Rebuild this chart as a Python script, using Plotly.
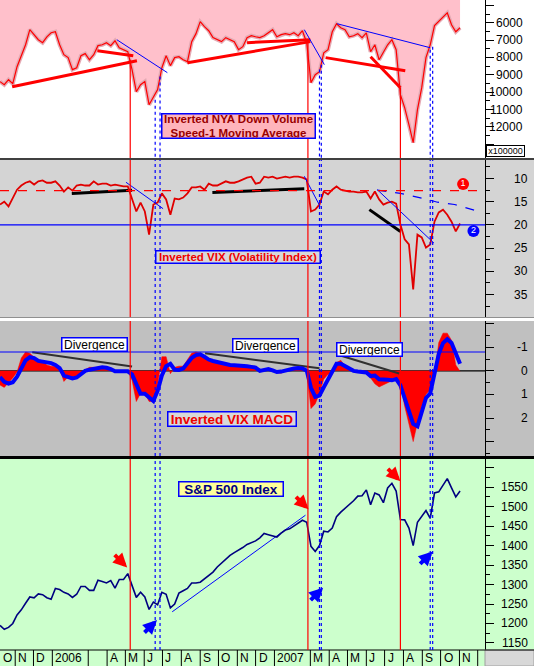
import pandas as pd
import plotly.graph_objects as go

# weekly closes, Oct 2005 - Nov 2007
weeks = pd.date_range("2005-10-07", periods=109, freq="7D")

nya_down = [9390, 9570, 9280, 9510, 8530, 7840, 7270, 6400, 6690, 6980,
            7150, 6810, 6580, 6520, 7270, 7840, 8010, 8700, 8590, 7900,
            7780, 8130, 7840, 7320, 7270, 7150, 7320, 7040, 7440, 7550,
            7670, 8700, 9970, 9570, 9390, 10720, 10260, 9850, 8590, 7900,
            8470, 8010, 7960, 8130, 8240, 7090, 6630, 5940, 6230, 6460,
            6860, 6980, 7090, 6860, 6980, 7090, 7550, 7380, 6860, 6750,
            6810, 6860, 6750, 6580, 6400, 6810, 6690, 6630, 6690, 6580,
            6750, 6460, 7150, 9450, 8990, 8820, 7730, 7550, 6520, 6060,
            6290, 6400, 6810, 6750, 6630, 6860, 6580, 7670, 7270, 8130,
            7670, 7270, 6980, 7550, 10140, 10890, 11870, 12900, 11000, 9740,
            8010, 7270, 6170, 5940, 5710, 5430, 6120, 6520, 6290]

vix = [15.6, 15.0, 16.0, 14.1, 12.4, 11.5, 10.9, 10.6, 11.3, 10.6,
       10.4, 10.9, 10.9, 10.6, 11.5, 12.8, 11.9, 12.6, 11.5, 11.3,
       11.5, 11.5, 10.6, 11.3, 11.1, 11.1, 11.5, 11.3, 11.5, 11.7,
       11.7, 14.5, 17.1, 15.2, 17.1, 22.1, 15.6, 15.2, 13.2, 14.5,
       17.8, 14.3, 14.5, 14.1, 13.2, 11.9, 11.9, 11.7, 12.4, 11.1,
       11.5, 11.5, 11.1, 10.6, 10.9, 10.9, 10.6, 10.2, 9.8, 9.6,
       11.1, 10.9, 9.6, 9.8, 9.6, 10.0, 9.8, 9.6, 9.8, 9.6,
       9.6, 9.8, 10.2, 17.1, 16.7, 15.6, 12.8, 13.4, 12.4, 11.7,
       12.4, 12.6, 12.8, 12.8, 13.0, 13.0, 12.8, 14.3, 12.8, 14.5,
       15.6, 15.2, 15.0, 15.4, 19.9, 23.1, 24.2, 33.9, 22.1, 22.7,
       24.9, 24.2, 19.3, 17.3, 16.7, 17.8, 19.3, 21.4, 19.7]

macd = [0.26, 0.46, 0.54, 0.48, 0.25, -0.10, -0.45, -0.58, -0.54, -0.42,
        -0.38, -0.38, -0.33, -0.25, -0.12, 0.20, 0.28, 0.32, 0.28, 0.16,
        0.00, -0.05, -0.09, -0.12, -0.15, -0.13, -0.08, 0.02, 0.02, 0.02,
        0.02, 0.15, 0.60, 0.97, 0.97, 1.15, 1.28, 0.85, 0.19, -0.20,
        -0.30, -0.05, -0.04, -0.10, -0.30, -0.55, -0.67, -0.70, -0.60, -0.48,
        -0.42, -0.37, -0.33, -0.29, -0.25, -0.24, -0.24, -0.24, -0.20, -0.17,
        -0.14, 0.00, -0.06, -0.08, -0.02, 0.05, 0.03, -0.02, -0.08, -0.10,
        -0.12, -0.10, -0.01, 0.72, 1.10, 1.05, 0.70, 0.35, 0.05, -0.30,
        -0.30, -0.20, -0.10, 0.00, 0.03, 0.04, 0.07, 0.22, 0.20, 0.36,
        0.35, 0.38, 0.40, 0.35, 0.62, 1.20, 1.70, 2.25, 2.35, 1.72,
        1.15, 0.95, 0.20, -0.71, -1.18, -1.34, -1.18, -0.68, -0.30]

macd_hist = [0.60, 0.70, 0.50, 0.30, 0.05, -0.55, -0.80, -0.75, -0.58, -0.50,
             -0.40, -0.25, -0.20, -0.20, -0.10, 0.45, 0.25, 0.26, 0.20, 0.15,
             -0.05, -0.15, -0.15, -0.12, -0.12, -0.10, 0.00, 0.00, 0.00, 0.00,
             0.00, 0.40, 1.30, 0.95, 0.95, 1.30, 1.30, 0.60, -0.60, -0.60,
             0.12, -0.15, -0.20, -0.20, -0.50, -0.75, -0.80, -0.75, -0.55, -0.45,
             -0.38, -0.35, -0.30, -0.30, -0.25, -0.25, -0.25, -0.22, -0.20, -0.18,
             -0.12, -0.05, 0.00, -0.05, -0.02, 0.08, 0.10, -0.02, -0.05, -0.10,
             -0.10, -0.05, 0.05, 1.60, 1.40, 0.95, 0.35, 0.15, 0.10, -0.35,
             -0.45, -0.20, 0.00, 0.00, 0.00, 0.00, 0.02, 0.30, 0.55, 0.68,
             0.60, 0.50, 0.42, 0.30, 0.55, 1.50, 2.30, 3.00, 2.20, 1.50,
             1.00, 0.80, 0.20, -1.20, -1.60, -1.60, -1.30, -0.25, 0.02]

spx = [1195, 1185, 1190, 1200, 1222, 1235, 1252, 1268, 1266, 1276,
       1274, 1266, 1262, 1290, 1287, 1280, 1276, 1267, 1275, 1295,
       1295, 1285, 1285, 1311, 1308, 1304, 1310, 1291, 1313, 1313,
       1328, 1298, 1267, 1280, 1268, 1236, 1255, 1248, 1280, 1275,
       1240, 1250, 1278, 1284, 1290, 1304, 1304, 1306, 1315, 1325,
       1332, 1345, 1355, 1367, 1375, 1382, 1388, 1395, 1403, 1407,
       1412, 1420, 1431, 1428, 1425, 1422, 1432, 1440, 1443, 1450,
       1458, 1465, 1460, 1398, 1385, 1400, 1437, 1435, 1445, 1474,
       1486, 1495, 1505, 1515, 1527, 1528, 1543, 1505, 1535, 1530,
       1510, 1548, 1560, 1540, 1467, 1466, 1445, 1400, 1460, 1475,
       1490, 1470, 1535, 1538, 1556, 1572, 1548, 1525, 1540]

# signal dates
sell_dates = ["2006-05-09", "2007-02-25", "2007-07-27"]
buy_dates = ["2006-06-19", "2006-06-27", "2007-03-16", "2007-03-19", "2007-09-14", "2007-09-18"]
sell_nya_start = [8130, 7150, 9740]
buy_nya_start = [10430, 9100, 8700, 8420, 7550, 7380]

# hand drawn trendlines (date0, value0, date1, value1)
nya_red_lines = [("2005-10-27", 9680, "2006-05-20", 8185),
                 ("2006-03-16", 7610, "2006-05-14", 7900),
                 ("2006-08-11", 8300, "2007-03-01", 7090),
                 ("2006-11-17", 7150, "2007-03-01", 6980),
                 ("2007-03-26", 8010, "2007-08-04", 8760),
                 ("2007-06-08", 7955, "2007-07-27", 9740)]
nya_blue_lines = [("2006-04-17", 6980, "2006-07-09", 8875),
                  ("2007-02-19", 6400, "2007-03-24", 8415),
                  ("2007-04-14", 6060, "2007-09-14", 7440)]
vix_black_lines = [("2006-02-02", 13.2, "2006-05-12", 12.5),
                   ("2006-09-21", 13.0, "2007-02-19", 12.2),
                   ("2007-06-06", 16.7, "2007-07-27", 21.4)]
vix_blue_lines = [("2006-05-02", 10.8, "2006-07-02", 16.5),
                  ("2007-02-19", 9.5, "2007-03-17", 16.0),
                  ("2007-06-19", 12.4, "2007-09-20", 23.9)]
vix_dash_dates = ["2007-06-19", "2007-07-27", "2007-09-09", "2007-09-26", "2007-10-24", "2007-12-06"]
vix_dash_values = [12.5, 13.2, 14.5, 15.1, 15.6, 17.2]
vix_red_level = 12.6
vix_blue_level = 20
vix_marker_dates = ["2007-11-07", "2007-11-24"]
vix_marker_values = [11.2, 21.3]
vix_marker_text = ["1", "2"]
macd_div_lines = [("2005-11-29", -0.79, "2006-05-12", -0.19),
                  ("2006-09-09", -0.75, "2007-03-16", -0.11),
                  ("2007-04-18", -0.66, "2007-07-25", 0.11)]
macd_blue_level = -0.8
spx_line = [("2006-07-17", 1230, "2007-02-21", 1478)]
sell_arrow_dates = ["2006-05-04", "2007-02-26", "2007-07-27"]
sell_arrow_values = [1344, 1493, 1565]
buy_arrow_dates = ["2006-06-22", "2007-03-22", "2007-09-18"]
buy_arrow_values = [1209, 1292, 1385]

# axis ticks
nya_ticks = list(range(5000, 14000, 1000))
nya_labels = [6000, 7000, 8000, 9000, 10000, 11000, 12000]
vix_ticks = [10, 15, 20, 25, 30, 35]
macd_ticks = [-2, -1, 0, 1, 2, 3]
macd_labels = [-1, 0, 1, 2]
spx_ticks = list(range(1150, 1650, 50))
spx_labels = list(range(1150, 1600, 50))
month_starts = ["2005-11-01", "2005-12-01", "2006-01-01", "2006-03-01", "2006-04-01",
                "2006-05-01", "2006-06-01", "2006-07-01", "2006-08-01", "2006-09-01", "2006-10-01",
                "2006-11-01", "2006-12-01", "2007-01-01", "2007-03-01", "2007-04-01", "2007-05-01",
                "2007-06-01", "2007-07-01", "2007-08-01", "2007-09-01", "2007-10-01", "2007-11-01",
                "2007-12-01"]
month_labels = ["N", "D", "2006", "", "A", "M", "J", "J", "A", "S", "O",
                "N", "D", "2007", "M", "A", "M", "J", "J", "A", "S", "O", "N", ""]
first_month_label = "O"   # October 2005, at the left edge

FONT = "Liberation Sans, Arial, sans-serif"
W, H = 534, 666
PW, PH = 485, 650          # plot area in px (right axis strip + bottom date strip outside)
X_RANGE = ["2005-10-07", "2007-12-13"]
NYA_RANGE = [13785, 4694]
VIX_RANGE = [39.85, 6.0]
MACD_RANGE = [3.61, -2.115]
SPX_RANGE = [1131.9, 1622.3]


def px(x):
    return x / PW


def py(y):
    return 1 - y / PH


fig = go.Figure()


def line_trace(xs, ys, sub, color, width, dash="solid"):
    fig.add_trace(go.Scatter(x=xs, y=ys, mode="lines", xaxis="x" + sub, yaxis="y" + sub,
                             line=dict(color=color, width=width, dash=dash), hoverinfo="skip"))


def segments(segs, sub, color, width, dash="solid"):
    xs, ys = [], []
    for d0, v0, d1, v1 in segs:
        xs += [d0, d1, None]
        ys += [v0, v1, None]
    line_trace(xs, ys, sub, color, width, dash)


# ---- panel backgrounds ----
shapes = []
for top, bot, color in [(0, 158, "white"), (160, 317, "#d4d4d4"), (321, 456, "#c0c0c0"),
                        (459, 650, "#ccffcc"), (650, 666, "#ccffcc")]:
    shapes.append(dict(type="rect", xref="paper", yref="paper", x0=0, x1=px(W), y0=py(bot), y1=py(top),
                       fillcolor=color, line_width=0, layer="below"))
shapes.append(dict(type="rect", xref="paper", yref="paper", x0=1, x1=px(W), y0=py(666), y1=py(650),
                   fillcolor="#d8d8d8", line=dict(color="#a0a0a0", width=1), layer="above"))
for y, color, w in [(159, "#404040", 2), (317.5, "#909090", 1), (319.5, "white", 3), (457.5, "black", 3),
                    (650, "black", 1)]:
    shapes.append(dict(type="line", xref="paper", yref="paper", x0=0, x1=px(W), y0=py(y), y1=py(y),
                       line=dict(color=color, width=w), layer="above"))

# ---- panel 1: inverted NYA down volume ----
line_trace(weeks, nya_down, "", "rgba(0,0,0,0)", 0)
fig.data[-1].update(fill="tozeroy", fillcolor="#ffc0cb")
line_trace(weeks, nya_down, "", "#e4aab4", 4)
line_trace(weeks, nya_down, "", "#ff0000", 1.2)
segments(nya_red_lines, "", "#ff0000", 3)
segments(nya_blue_lines, "", "#0000ff", 1)

# ---- panel 2: inverted VIX ----
segments(vix_black_lines, "2", "black", 3)
line_trace(weeks, vix, "2", "#e00000", 1.8)
segments(vix_blue_lines, "2", "#0000ff", 1)
line_trace(vix_dash_dates, vix_dash_values, "2", "#0000ff", 1.2, "dash")
fig.add_trace(go.Scatter(x=vix_marker_dates, y=vix_marker_values, mode="markers+text", xaxis="x2", yaxis="y2",
                         text=vix_marker_text, textposition="middle center",
                         textfont=dict(family=FONT, size=9, color="white"),
                         marker=dict(size=12, color=["#ff0000", "#0000ff"]), hoverinfo="skip"))

# ---- panel 3: VIX MACD ----
line_trace(weeks, macd_hist, "3", "#ff0000", 0.5)
fig.data[-1].update(fill="tozeroy", fillcolor="#ff0000")
segments(macd_div_lines, "3", "#303030", 2)
line_trace(weeks, macd, "3", "#0000ff", 4)

# ---- panel 4: S&P 500 ----
segments(spx_line, "4", "#0000ff", 1)
line_trace(weeks, spx, "4", "#000080", 1.6)

# reference levels
for sub, level, color, dash in [("2", vix_red_level, "#ff0000", "dash"), ("2", vix_blue_level, "#0000ff", "solid"),
                                ("3", macd_blue_level, "#0000ff", "solid"), ("3", 0, "black", "solid")]:
    shapes.append(dict(type="line", xref="x" + sub + " domain", yref="y" + sub, x0=0, x1=1, y0=level, y1=level,
                       line=dict(color=color, width=1.2, dash=dash), layer="below" if level == 0 else "above"))

# signal verticals
for d, v in zip(sell_dates, sell_nya_start):
    shapes.append(dict(type="line", xref="x", yref="y", x0=d, x1=d, y0=v, y1=NYA_RANGE[0],
                       line=dict(color="#ff0000", width=1.2)))
for d, v in zip(buy_dates, buy_nya_start):
    shapes.append(dict(type="line", xref="x", yref="y", x0=d, x1=d, y0=v, y1=NYA_RANGE[0],
                       line=dict(color="#0000ff", width=1.2, dash="3px,3px")))
for sub in ["2", "3", "4"]:
    for d in sell_dates:
        shapes.append(dict(type="line", xref="x", yref="y" + sub + " domain", x0=d, x1=d, y0=0, y1=1,
                           line=dict(color="#ff0000", width=1.2)))
    for d in buy_dates:
        shapes.append(dict(type="line", xref="x", yref="y" + sub + " domain", x0=d, x1=d, y0=0, y1=1,
                           line=dict(color="#0000ff", width=1.2, dash="3px,3px")))

# date strip separators
for d in month_starts:
    shapes.append(dict(type="line", xref="x4", yref="paper", x0=d, x1=d, y0=py(666), y1=py(650),
                       line=dict(color="black", width=1)))

annotations = []


def label_box(text, x, y, w, h, size, color, bg, bold=True, border="#0000ff", bw=1.5):
    annotations.append(dict(text="<b>" + text + "</b>" if bold else text, xref="paper", yref="paper",
                            x=px(x), y=py(y), showarrow=False, xanchor="center", yanchor="middle",
                            width=w, height=h, bgcolor=bg, bordercolor=border, borderwidth=bw, borderpad=0,
                            font=dict(family=FONT, size=size, color=color)))


label_box("Inverted NYA Down Volume<br>Speed-1 Moving Average", 238.5, 126, 152, 23, 11.5, "#990000", "#ffb4bc")
label_box("Inverted VIX (Volatility Index)", 238, 257.5, 163, 11, 11.5, "#ee0000", "#d8d8d8")
label_box("Inverted VIX MACD", 232, 419.5, 127, 13, 13.5, "#ee0000", "#d8d8d8")
label_box("S&P 500 Index", 231, 489, 103, 13, 13.5, "#000080", "#ffff99")
for cx, cy in [(94.5, 344.5), (265.5, 345), (369, 349)]:
    label_box("Divergence", cx, cy, 64, 12, 12, "black", "white", bold=False)
label_box("x100000", 505, 151, 37, 10, 9, "black", "white", bold=False, border="black", bw=1)

# right axis labels
for vals, yref, right in [(nya_labels, "y", 525), (vix_ticks, "y2", 530), (macd_labels, "y3", 530),
                          (spx_labels, "y4", 530)]:
    for v in vals:
        annotations.append(dict(text=str(v), xref="paper", yref=yref, x=px(right), y=v, showarrow=False,
                                xanchor="right", yanchor="middle", font=dict(family=FONT, size=12, color="black")))

# month labels
annotations.append(dict(text=first_month_label, xref="paper", yref="paper", x=px(1), y=py(658), showarrow=False,
                        xanchor="left", yanchor="middle", font=dict(family=FONT, size=12, color="black")))
for d, lab in zip(month_starts, month_labels):
    annotations.append(dict(text=lab, xref="x4", yref="paper", x=d, y=py(658), xshift=1, showarrow=False,
                            xanchor="left", yanchor="middle", font=dict(family=FONT, size=12, color="black")))

# signal arrows
for d, v in zip(sell_arrow_dates, sell_arrow_values):
    annotations.append(dict(text="", xref="x4", yref="y4", x=d, y=v, ax=-14, ay=-14, showarrow=True,
                            arrowhead=2, arrowsize=0.7, arrowwidth=4, arrowcolor="#ff0000"))
for d, v in zip(buy_arrow_dates, buy_arrow_values):
    annotations.append(dict(text="", xref="x4", yref="y4", x=d, y=v, ax=-14, ay=14, showarrow=True,
                            arrowhead=2, arrowsize=0.7, arrowwidth=4, arrowcolor="#0000ff"))

xaxis_common = dict(type="date", range=X_RANGE, showgrid=False, zeroline=False, showticklabels=False,
                    showline=False, ticks="", domain=[0, 1])
yaxis_common = dict(side="right", showgrid=False, zeroline=False, showticklabels=False, showline=True,
                    linecolor="black", linewidth=1, ticks="outside", ticklen=8, tickcolor="black")

fig.update_layout(
    width=W, height=H, autosize=False,
    margin=dict(l=0, r=W - PW, t=0, b=H - PH),
    paper_bgcolor="white", plot_bgcolor="rgba(0,0,0,0)",
    showlegend=False, hovermode=False,
    xaxis=dict(xaxis_common, anchor="y"),
    xaxis2=dict(xaxis_common, anchor="y2", matches="x"),
    xaxis3=dict(xaxis_common, anchor="y3", matches="x"),
    xaxis4=dict(xaxis_common, anchor="y4", matches="x"),
    yaxis=dict(yaxis_common, anchor="x", domain=[py(158), 1], range=NYA_RANGE, tickvals=nya_ticks,
               minor=dict(ticks="outside", ticklen=4, dtick=500, tickcolor="black")),
    yaxis2=dict(yaxis_common, anchor="x2", domain=[py(317), py(160)], range=VIX_RANGE, tickvals=vix_ticks,
                minor=dict(ticks="outside", ticklen=4, dtick=2.5, tickcolor="black")),
    yaxis3=dict(yaxis_common, anchor="x3", domain=[py(456), py(321)], range=MACD_RANGE, tickvals=macd_ticks,
                minor=dict(ticks="outside", ticklen=4, dtick=0.5, tickcolor="black")),
    yaxis4=dict(yaxis_common, anchor="x4", domain=[0, py(459)], range=SPX_RANGE, tickvals=spx_ticks,
                minor=dict(ticks="outside", ticklen=4, dtick=25, tickcolor="black")),
    shapes=shapes,
    annotations=annotations,
    font=dict(family=FONT),
)

# the page's default body margin would push the 534px figure off the window
fig.write_html("out.html", config={"displayModeBar": False},
               post_script="document.body.style.margin = '0';")
